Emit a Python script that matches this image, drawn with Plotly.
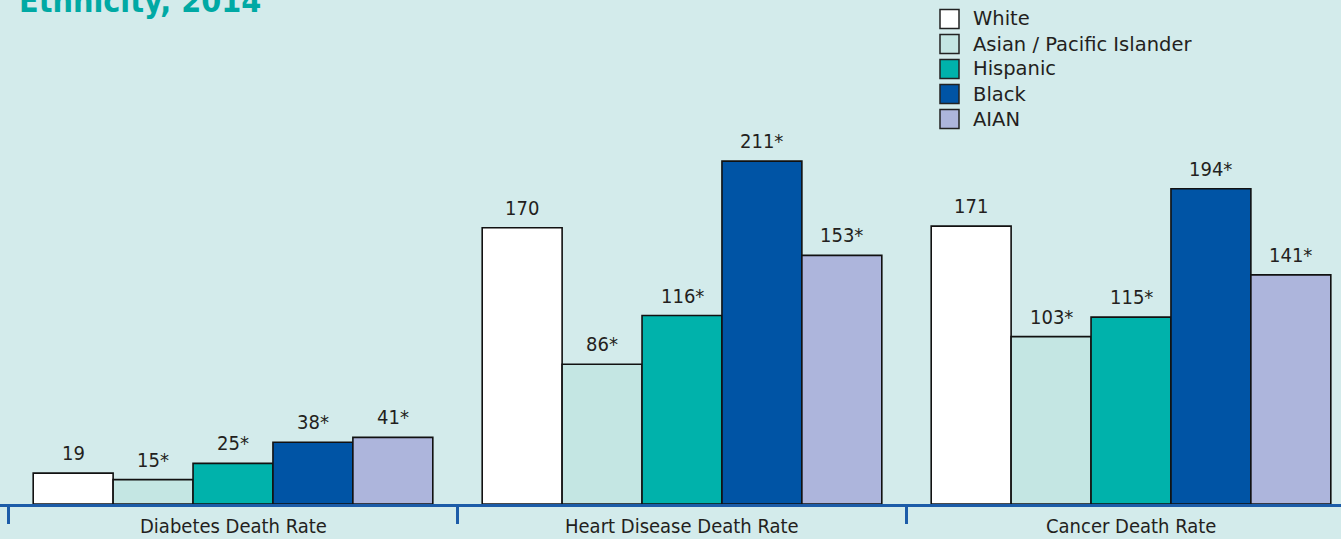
import plotly.graph_objects as go

categories = ["Diabetes Death Rate", "Heart Disease Death Rate", "Cancer Death Rate"]
series_names = ["White", "Asian / Pacific Islander", "Hispanic", "Black", "AIAN"]
values = {
    "White": [19, 170, 171],
    "Asian / Pacific Islander": [15, 86, 103],
    "Hispanic": [25, 116, 115],
    "Black": [38, 211, 194],
    "AIAN": [41, 153, 141],
}
labels = {
    "White": ["19", "170", "171"],
    "Asian / Pacific Islander": ["15*", "86*", "103*"],
    "Hispanic": ["25*", "116*", "115*"],
    "Black": ["38*", "211*", "194*"],
    "AIAN": ["41*", "153*", "141*"],
}
colors = ["#FFFFFF", "#C4E6E3", "#00B2AB", "#0054A5", "#ADB5DC"]
title_text = "Ethnicity, 2014"

W, H = 1341, 539
BOTTOM = 35
PLOT_H = H - BOTTOM
BG = "#D3EBEB"
AXIS_BLUE = "#1C5CA8"
TEXT = "#231F20"
FONT = "DejaVu Sans Condensed, Liberation Sans Narrow, sans-serif"
LEG_FONT = "DejaVu Sans, sans-serif"
BARGAP = 0.11

fig = go.Figure()
for name, col in zip(series_names, colors):
    fig.add_trace(go.Bar(
        x=categories, y=values[name], name=name,
        marker=dict(color=col, line=dict(color="#111111", width=1.6)),
        showlegend=False,
    ))

annotations = []
n = len(series_names)
bw = (1 - BARGAP) / n
for j, name in enumerate(series_names):
    for i, (v, lab) in enumerate(zip(values[name], labels[name])):
        annotations.append(dict(
            x=i + (j - (n - 1) / 2) * bw, y=v, xref="x", yref="y",
            text=lab, showarrow=False, yanchor="bottom", xanchor="center",
            yshift=6, font=dict(family=FONT, size=20, color=TEXT),
        ))

for i, c in enumerate(categories):
    annotations.append(dict(
        x=i, y=0, xref="x", yref="paper", text=c, showarrow=False,
        xanchor="center", yanchor="bottom", yshift=-35, borderpad=0,
        font=dict(family=FONT, size=20, color=TEXT),
    ))

# title (top part cut off in reference)
annotations.append(dict(
    x=17 / W, y=1, xref="paper", yref="paper", text="<b>" + title_text + "</b>",
    showarrow=False, xanchor="left", yanchor="bottom", yshift=-22,
    font=dict(family=FONT, size=32, color="#00A9A4"),
))

# manual legend
shapes = []
LX0, LSQ, LY0, LSTEP = 940, 19, 19, 25
for k, (name, col) in enumerate(zip(series_names, colors)):
    cy = LY0 + k * LSTEP
    shapes.append(dict(
        type="rect", xref="paper", yref="paper",
        x0=LX0 / W, x1=(LX0 + LSQ) / W,
        y0=1 - (cy + LSQ / 2) / PLOT_H, y1=1 - (cy - LSQ / 2) / PLOT_H,
        fillcolor=col, line=dict(color="#222222", width=1.5),
    ))
    annotations.append(dict(
        x=(LX0 + 31) / W, y=1 - cy / PLOT_H, xref="paper", yref="paper",
        text=name, showarrow=False, xanchor="left", yanchor="middle",
        font=dict(family=LEG_FONT, size=19.5, color=TEXT),
    ))

px_per_unit = 449
x_lo = -233 / px_per_unit
x_hi = x_lo + W / px_per_unit

fig.update_layout(
    width=W, height=H,
    margin=dict(l=0, r=0, t=0, b=BOTTOM, pad=0),
    paper_bgcolor=BG, plot_bgcolor=BG,
    barmode="group", bargap=BARGAP, bargroupgap=0,
    xaxis=dict(
        type="category", range=[x_lo, x_hi], tickson="boundaries",
        ticks="outside", ticklen=17, tickwidth=3, tickcolor=AXIS_BLUE,
        showline=True, linecolor=AXIS_BLUE, linewidth=3,
        showticklabels=False, showgrid=False, zeroline=False, fixedrange=True,
    ),
    yaxis=dict(range=[0, PLOT_H / 1.625], visible=False, showgrid=False, fixedrange=True),
    annotations=annotations, shapes=shapes,
    font=dict(family=FONT, color=TEXT),
)

fig.write_html("out.html", config={"displayModeBar": False})
